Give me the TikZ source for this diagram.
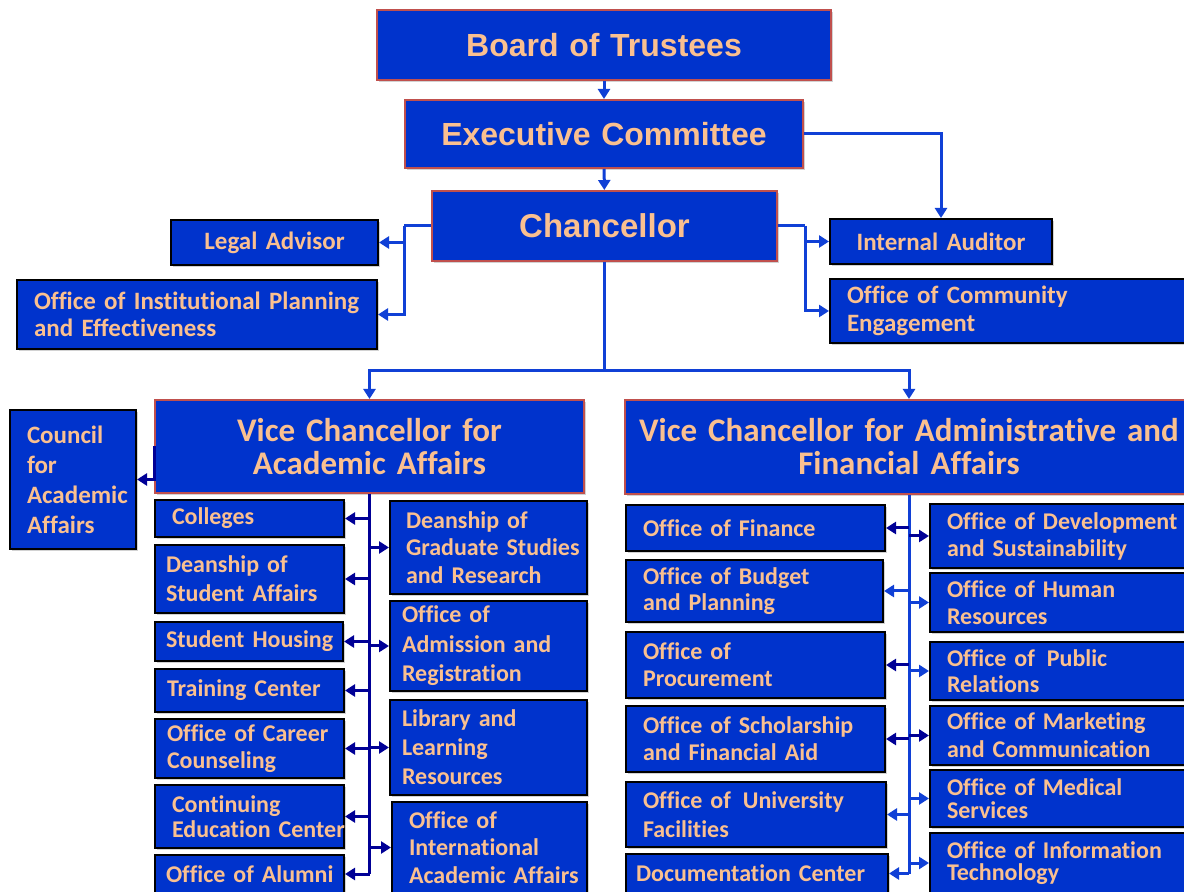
\documentclass[tikz,border=0pt]{standalone}
\usepackage{fontspec}
\usepackage{tikz}
\usetikzlibrary{arrows.meta}
\usetikzlibrary{shadows}
\newfontfamily\arialfont{Liberation Sans}
\newfontfamily\calfont[Ligatures=NoCommon]{Carlito}
\definecolor{boxblue}{RGB}{0,51,204}
\definecolor{peach}{RGB}{250,192,144}
\definecolor{redline}{RGB}{192,80,77}
\definecolor{linkblue}{RGB}{16,64,214}
\definecolor{navy}{RGB}{0,0,150}
\tikzset{base/.style={draw=black, line width=1pt, fill=boxblue, text=peach, inner sep=0pt,
   drop shadow={shadow xshift=1.2pt, shadow yshift=-1.2pt, opacity=.35},
   font=\calfont\bfseries\fontsize{12}{13.5}\selectfont},
 lbox/.style={base, align=left, execute at begin node={\leftskip=7pt\hyphenpenalty=10000}},
 cbox/.style={base, align=center},
 padleft/.style={execute at begin node={\leftskip=#1}},
 leading/.style={font=\calfont\bfseries\fontsize{12}{#1}\selectfont},
 sidefont/.style={font=\calfont\bfseries\fontsize{12.5}{#1}\selectfont},
 topbox/.style={cbox, draw=redline, font=\arialfont\bfseries\fontsize{16}{19}\selectfont},
 vcbox/.style={cbox, draw=redline, font=\calfont\bfseries\fontsize{16.5}{16.5}\selectfont},
 link/.style={draw=linkblue, line width=1.5pt},
 linktip/.style={link, -{Triangle[length=5pt,width=6pt]}},
 navylink/.style={draw=navy, line width=1.5pt},
 navytip/.style={navylink, -{Triangle[length=5pt,width=6pt]}},
 }
\newcommand\orgbox[7][lbox]{%
  \node[#1, minimum width={(#5-#3)*0.5pt}, minimum height={(#6-#4)*0.5pt},
    text width={(#5-#3)*0.5pt-3pt}] (#2) at ({(#3+#5)/2},{(#4+#6)/2}) {#7};}

\begin{document}
\begin{tikzpicture}[x=0.5pt,y=-0.5pt]
    \clip (0,0) rectangle (1184,892);
    \fill[white] (0,0) rectangle (1184,892);
    \orgbox[topbox]{board}{377}{10}{831}{80}{Board of Trustees}
    \orgbox[topbox]{exec}{405}{100}{803}{168}{Executive Committee}
    \orgbox[topbox, font=\arialfont\bfseries\fontsize{16.5}{19}\selectfont]{chan}{432}{191}{777}{261}{Chancellor}
    \orgbox[cbox, sidefont=13.5]{legal}{171}{220}{378}{265}{Legal Advisor}
    \orgbox[lbox, sidefont=13.5]{oipe}{17}{280}{377}{349}{Office of Institutional Planning\\and Effectiveness}
    \orgbox[cbox, sidefont=13.5]{aud}{830}{219}{1052}{264}{Internal Auditor}
    \orgbox[lbox, sidefont=14]{ce}{830}{279}{1194}{343}{Office of Community\\Engagement}
    \orgbox[vcbox]{vcaa}{155}{400}{584}{493}{Vice Chancellor for\\Academic Affairs}
    \orgbox[vcbox]{vcaf}{625}{400}{1193}{494}{Vice Chancellor for Administrative and\\Financial Affairs}
    \orgbox[lbox, sidefont=15]{council}{10}{410}{136}{549}{Council\\for\\Academic\\Affairs}

    \orgbox{col}{155}{500}{344}{537}{Colleges}
    \orgbox[lbox, padleft=4pt, leading=14.5]{dsa}{155}{545}{344}{613}{Deanship of\\Student Affairs}
    \orgbox[lbox, padleft=4pt]{sh}{155}{622}{343}{661}{Student Housing}
    \orgbox[lbox, padleft=4.5pt]{tc}{155}{669}{344}{712}{Training Center}
    \orgbox[lbox, padleft=4.5pt]{occ}{155}{719}{344}{778}{Office of Career\\Counseling}
    \orgbox[lbox, leading=12.5]{cec}{155}{785}{344}{848}{Continuing\\\mbox{Education Center}}
    \orgbox[lbox, padleft=4pt]{alu}{155}{855}{344}{893}{Office of Alumni}
    \orgbox[lbox, padleft=6.5pt, leading=13.75]{gsr}{390}{501}{587}{594}{Deanship of\\\mbox{Graduate Studies}\\and Research}
    \orgbox[lbox, padleft=4.5pt, leading=14.75]{adm}{390}{601}{587}{691}{Office of\\Admission and\\Registration}
    \orgbox[lbox, padleft=4.5pt, leading=14.5]{lib}{390}{700}{587}{795}{Library and\\Learning\\Resources}
    \orgbox[lbox, leading=13.75]{iaa}{392}{802}{587}{893}{Office of\\International\\\mbox{Academic Affairs}}

    \orgbox{fin}{626}{505}{885}{551}{Office of Finance}
    \orgbox[lbox, leading=13]{bp}{626}{560}{883}{622}{Office of Budget\\and Planning}
    \orgbox{pro}{626}{632}{885}{698}{Office of\\Procurement}
    \orgbox{sch}{626}{706}{885}{772}{Office of Scholarship\\and Financial Aid}
    \orgbox[lbox, leading=14.5]{fac}{626}{782}{886}{847}{Office of\enspace University\\Facilities}
    \orgbox[lbox, padleft=3.5pt]{doc}{626}{854}{888}{893}{Documentation Center}
    \orgbox{dev}{930}{504}{1194}{568}{Office of Development\\and Sustainability}
    \orgbox{hr}{930}{573}{1194}{632}{Office of Human\\Resources}
    \orgbox[lbox, leading=13]{pr}{930}{642}{1194}{700}{Office of\enspace Public\\Relations}
    \orgbox[lbox, leading=14]{mkt}{930}{706}{1194}{765}{Office of Marketing\\and Communication}
    \orgbox[lbox, leading=11.5]{med}{930}{770}{1194}{827}{Office of Medical\\Services}
    \orgbox[lbox, leading=11]{it}{930}{833}{1194}{893}{Office of Information\\Technology}

    \draw[linktip] (board) -- (exec);
    \draw[linktip] (exec) -- (chan);
    \draw[linktip] (exec.east) -| (aud.north);
    \draw[link] (chan.west) -- ++(-27,0) coordinate (lbus);
    \draw[linktip] (lbus) |- (legal.east);
    \draw[linktip] (lbus) |- (oipe.east);
    \draw[link] (chan.east) -- ++(27,0) coordinate (rbus);
    \draw[linktip] (rbus) |- (aud.west);
    \draw[linktip] (rbus) |- (ce.west);
    \draw[link] (chan.south) -- ++(0,109) coordinate (split);
    \draw[linktip] (split) -| (vcaa.north);
    \draw[linktip] (split) -| (vcaf.north);

    \draw[navytip] (vcaa.west) |- (council.east);
    \draw[navylink] (vcaa.south) -- (vcaa.south |- alu.east);
    \foreach \n in {col,dsa,sh,tc,occ,cec,alu}
        \draw[navytip] (vcaa.south |- \n.east) -- (\n.east);
    \foreach \n in {gsr,adm,lib,iaa}
        \draw[navytip] (vcaa.south |- \n.west) -- (\n.west);

    \draw[link] (vcaf.south) -- (vcaf.south |- doc.east);
    \foreach \n/\c in {fin/navy,bp/linkblue,pro/navy,sch/navy,fac/linkblue,doc/linkblue}
        \draw[linktip, draw=\c] (vcaf.south |- \n.east) -- (\n.east);
    \foreach \n/\c in {dev/navy,hr/linkblue,pr/linkblue,mkt/navy,med/linkblue,it/linkblue}
        \draw[linktip, draw=\c] (vcaf.south |- \n.west) -- (\n.west);
\end{tikzpicture}
\end{document}
